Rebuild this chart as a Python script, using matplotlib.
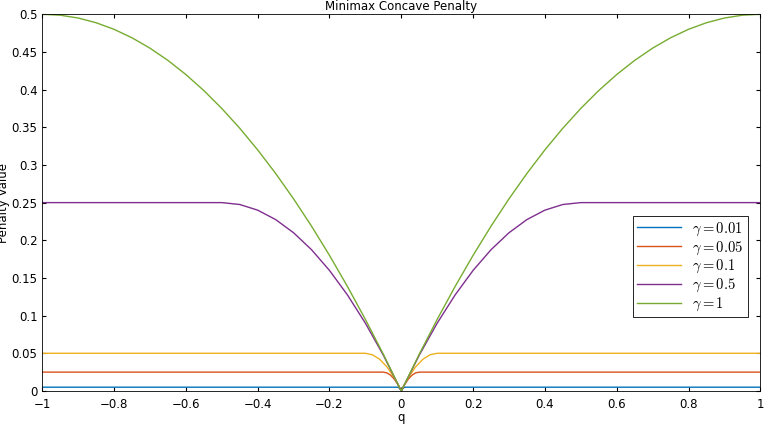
import matplotlib
matplotlib.use("Agg")
import matplotlib.pyplot as plt
import numpy as np

plt.rcParams["mathtext.fontset"] = "cm"

# penalty values, right half (q >= 0); curves are symmetric
gammas = ["0.01", "0.05", "0.1", "0.5", "1"]
q_001 = [0, 0.005, 0.01, 1.0]
y_001 = [0, 0.00375, 0.005, 0.005]
q_005 = [0, 0.01, 0.02, 0.03, 0.04, 0.05, 1.0]
y_005 = [0, 0.009, 0.016, 0.021, 0.024, 0.025, 0.025]
q_01 = [0, 0.01, 0.02, 0.04, 0.06, 0.08, 0.1, 1.0]
y_01 = [0, 0.0095, 0.018, 0.032, 0.042, 0.048, 0.05, 0.05]
q_05 = [0, 0.05, 0.1, 0.15, 0.2, 0.25, 0.3, 0.35, 0.4, 0.45, 0.5, 1.0]
y_05 = [0, 0.0475, 0.09, 0.1275, 0.16, 0.1875, 0.21, 0.2275, 0.24, 0.2475, 0.25, 0.25]
q_1 = [0, 0.05, 0.1, 0.15, 0.2, 0.25, 0.3, 0.35, 0.4, 0.45, 0.5,
       0.55, 0.6, 0.65, 0.7, 0.75, 0.8, 0.85, 0.9, 0.95, 1.0]
y_1 = [0, 0.04875, 0.095, 0.13875, 0.18, 0.21875, 0.255, 0.28875, 0.32, 0.34875, 0.375,
       0.39875, 0.42, 0.43875, 0.455, 0.46875, 0.48, 0.48875, 0.495, 0.49875, 0.5]
series = [(q_001, y_001), (q_005, y_005), (q_01, y_01), (q_05, y_05), (q_1, y_1)]
colors = ["#0072BD", "#D95319", "#EDB120", "#7E2F8E", "#77AC30"]

fig = plt.figure(figsize=(7.68, 4.32), dpi=100)
ax = fig.add_axes([0.055, 0.095, 0.935, 0.872])

for (q, y), g, c in zip(series, gammas, colors):
    q = np.array(q)
    y = np.array(y)
    qq = np.concatenate([-q[::-1], q[1:]])
    yy = np.concatenate([y[::-1], y[1:]])
    ax.plot(qq, yy, color=c, lw=1.0, label=r"$\gamma = %s$" % g)

ax.set_xlim(-1, 1)
ax.set_ylim(0, 0.5)
ax.set_xticks(np.arange(-1, 1.01, 0.2))
ax.set_xticklabels(["\u22121", "\u22120.8", "\u22120.6", "\u22120.4", "\u22120.2", "0",
                    "0.2", "0.4", "0.6", "0.8", "1"])
ax.set_yticks(np.arange(0, 0.501, 0.05))
ax.set_yticklabels(["0", "0.05", "0.1", "0.15", "0.2", "0.25", "0.3", "0.35", "0.4", "0.45", "0.5"])
ax.tick_params(direction="in", top=True, right=True, labelsize=8.5, length=3)
ax.tick_params(axis="x", pad=5)
ax.set_xlabel("q", fontsize=8.5, labelpad=0)
ax.set_ylabel("Penalty Value", fontsize=8.5, labelpad=1)
ax.set_title("Minimax Concave Penalty", fontsize=8.5, pad=3)
for s in ax.spines.values():
    s.set_linewidth(0.6)

leg = ax.legend(loc="center right", bbox_to_anchor=(0.993, 0.33), fontsize=10.5,
                fancybox=False, edgecolor="black", framealpha=1,
                handlelength=3.0, borderpad=0.3, labelspacing=0.1)
leg.get_frame().set_linewidth(0.6)

fig.savefig("out.png", dpi=100)
